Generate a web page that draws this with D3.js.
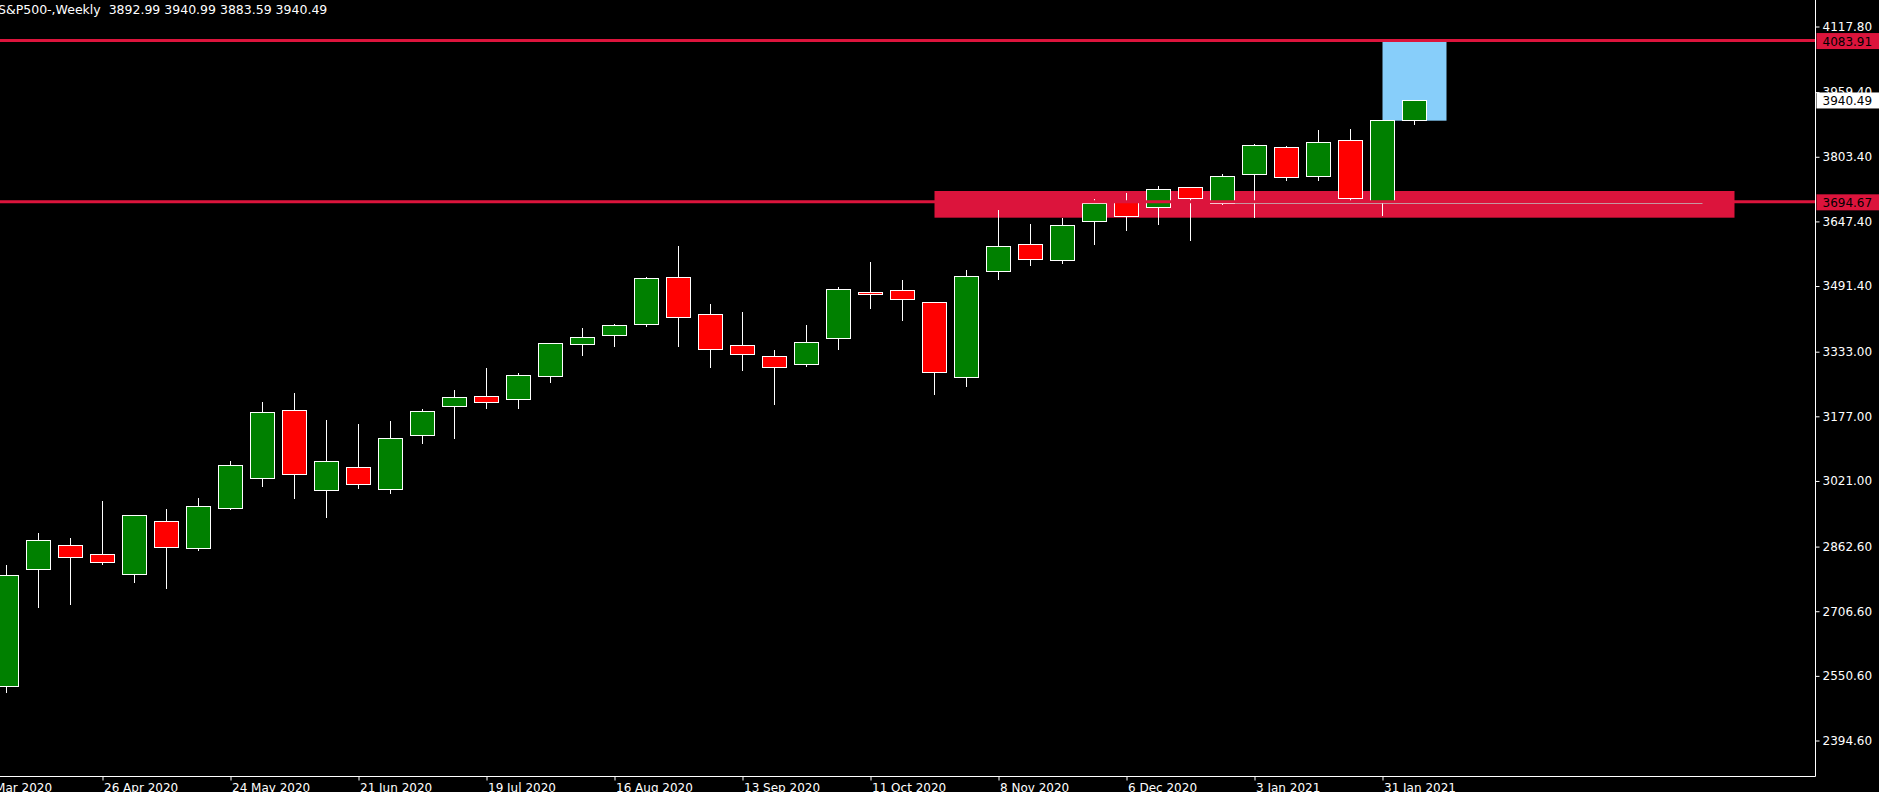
<!DOCTYPE html>
<html>
<head>
<meta charset="utf-8">
<script src="https://cdn.jsdelivr.net/npm/d3@7"></script>
<style>
  html, body { margin: 0; padding: 0; background: #000; overflow: hidden; }
  svg { display: block; }
</style>
</head>
<body>
<div id="chart"></div>
<script>
// weekly bars, S&P500-
var weeks = ["2020-04-05","2020-04-12","2020-04-19","2020-04-26","2020-05-03","2020-05-10","2020-05-17","2020-05-24",
  "2020-05-31","2020-06-07","2020-06-14","2020-06-21","2020-06-28","2020-07-05","2020-07-12","2020-07-19",
  "2020-07-26","2020-08-02","2020-08-09","2020-08-16","2020-08-23","2020-08-30","2020-09-06","2020-09-13",
  "2020-09-20","2020-09-27","2020-10-04","2020-10-11","2020-10-18","2020-10-25","2020-11-01","2020-11-08",
  "2020-11-15","2020-11-22","2020-11-29","2020-12-06","2020-12-13","2020-12-20","2020-12-27","2021-01-03",
  "2021-01-10","2021-01-17","2021-01-24","2021-01-31","2021-02-07"];
var opens  = [2525.4,2807.8,2865.7,2844.0,2795.7,2923.7,2858.5,2955.0,3027.4,3191.5,2998.5,3054.0,3000.9,3131.2,3201.2,
  3225.3,3218.1,3273.6,3350.8,3372.5,3399.1,3512.5,3423.2,3348.4,3321.9,3304.0,3365.3,3476.3,3481.1,3452.2,
  3271.2,3527.0,3592.2,3553.5,3647.7,3696.7,3681.5,3729.7,3691.1,3761.1,3826.3,3756.3,3843.2,3697.0,3892.99];
var highs  = [2818.2,2895.4,2883.3,2972.6,2938.1,2953.3,2979.9,3069.2,3211.6,3233.3,3168.1,3158.5,3165.7,3194.7,3240.5,
  3293.6,3280.8,3353.2,3390.2,3399.1,3513.2,3588.1,3448.1,3428.8,3337.1,3397.4,3489.1,3549.4,3506.0,3452.2,
  3530.1,3674.9,3641.2,3655.6,3701.5,3716.0,3732.1,3729.7,3761.8,3834.2,3829.4,3868.0,3870.4,3891.4,3940.99];
var lows   = [2512.4,2717.5,2724.8,2819.9,2777.9,2763.4,2855.1,2954.0,3009.6,2980.6,2934.8,3003.3,2992.7,3113.3,3125.4,
  3197.8,3197.8,3260.6,3325.0,3347.4,3395.7,3347.4,3296.8,3289.5,3207.5,3299.2,3340.2,3439.2,3410.2,3231.6,
  3250.9,3509.1,3542.9,3547.8,3593.6,3626.7,3641.9,3603.3,3689.4,3658.8,3748.1,3748.1,3699.8,3662.9,3883.59];
var closes = [2793.3,2877.8,2836.8,2824.7,2938.1,2860.9,2959.9,3058.8,3186.7,3037.1,3068.5,3012.9,3124.0,3189.1,3222.9,
  3210.8,3276.0,3353.2,3367.7,3396.7,3510.1,3416.0,3338.8,3326.7,3295.3,3355.6,3483.6,3471.5,3459.4,3284.7,
  3514.9,3587.3,3556.0,3638.0,3691.1,3661.2,3724.9,3703.2,3756.3,3831.1,3753.9,3838.3,3703.2,3891.4,3940.49];

var priceTicks = [4117.80, 3959.40, 3803.40, 3647.40, 3491.40, 3333.00, 3177.00, 3021.00, 2862.60, 2706.60, 2550.60, 2394.60];
var dateTicks = ["2020-03-29","2020-04-26","2020-05-24","2020-06-21","2020-07-19","2020-08-16","2020-09-13",
  "2020-10-11","2020-11-08","2020-12-06","2021-01-03","2021-01-31"];

// drawn objects
var hLevels = [4083.91, 3694.67];
var supplyZone = ["2021-01-31", "2021-02-14", 3890.5, 4083.91];
var demandZone = ["2020-10-25", "2021-04-18", 3656.4, 3720.8];
var trendSeg = ["2020-12-27", "2021-04-11", 3691.1];
var header = "S&P500-,Weekly  3892.99 3940.99 3883.59 3940.49";

var W = 1879, H = 792, axisX = 1815.5, axisY = 776.5;
var FONT = "DejaVu Sans, Verdana, sans-serif";
var parse = d3.utcParse("%Y-%m-%d");

var x = d3.scaleUtc()
    .domain([parse(weeks[0]), parse(weeks[weeks.length - 1])])
    .range([6.5, 1414.5]);
var y = d3.scaleLinear()
    .domain([2394.6, 4117.8])
    .range([740.5, 26.5]);

var svg = d3.select("#chart").append("svg")
    .attr("width", W)
    .attr("height", H);
svg.append("rect").attr("width", W).attr("height", H).attr("fill", "#000");

svg.append("defs").append("clipPath").attr("id", "plotClip")
  .append("rect").attr("x", 0).attr("y", 0).attr("width", axisX).attr("height", axisY);

var plot = svg.append("g").attr("clip-path", "url(#plotClip)");

// background objects
function renderZone(z, color){
    plot.append("rect")
        .attr("x", x(parse(z[0])))
        .attr("y", y(z[3]))
        .attr("width", x(parse(z[1])) - x(parse(z[0])))
        .attr("height", y(z[2]) - y(z[3]))
        .attr("fill", color);
}
renderZone(demandZone, "#DC143C");
renderZone(supplyZone, "#87CEFA");

plot.append("line")
    .attr("x1", x(parse(trendSeg[0])))
    .attr("x2", x(parse(trendSeg[1])))
    .attr("y1", Math.round(y(trendSeg[2])) + 0.5)
    .attr("y2", Math.round(y(trendSeg[2])) + 0.5)
    .attr("stroke", "#C0C0C0")
    .attr("stroke-width", 1);

// candles
var bars = weeks.map(function(w, i){
    return {date: parse(w), o: opens[i], h: highs[i], l: lows[i], c: closes[i]};
});
var candle = plot.append("g").selectAll("g").data(bars).enter().append("g");

candle.append("line")
    .attr("x1", function(d){ return x(d.date); })
    .attr("x2", function(d){ return x(d.date); })
    .attr("y1", function(d){ return Math.round(y(d.h)); })
    .attr("y2", function(d){ return Math.round(y(d.l)) + 1; })
    .attr("stroke", "#fff")
    .attr("stroke-width", 1);

candle.append("rect")
    .attr("x", function(d){ return x(d.date) - 12; })
    .attr("y", function(d){ return Math.round(y(Math.max(d.o, d.c))) + 0.5; })
    .attr("width", 24)
    .attr("height", function(d){
        return Math.max(1, Math.round(y(Math.min(d.o, d.c))) - Math.round(y(Math.max(d.o, d.c))));
    })
    .attr("fill", function(d){ return d.c >= d.o ? "#008000" : "#FF0000"; })
    .attr("stroke", "#fff")
    .attr("stroke-width", 1);

// horizontal levels on top
plot.selectAll(".level").data(hLevels).enter().append("line")
    .attr("class", "level")
    .attr("x1", 0)
    .attr("x2", axisX)
    .attr("y1", function(d){ return y(d); })
    .attr("y2", function(d){ return y(d); })
    .attr("stroke", "#DC143C")
    .attr("stroke-width", 3);

// header
svg.append("text")
    .attr("x", -2)
    .attr("y", 14)
    .attr("fill", "#fff")
    .attr("font-family", FONT)
    .attr("font-size", 12.5)
    .attr("xml:space", "preserve")
    .text(header);

// price axis
var yAxis = svg.append("g")
    .attr("transform", "translate(" + axisX + ",0)")
    .call(d3.axisRight(y).tickValues(priceTicks).tickSize(4).tickFormat(d3.format(".2f")));
yAxis.select(".domain").remove();
yAxis.selectAll("line").attr("stroke", "#fff");
yAxis.selectAll("text").attr("fill", "#fff").attr("font-family", FONT).attr("font-size", 12);

// time axis
var fmt = d3.utcFormat("%-d %b %Y");
var xAxis = svg.append("g")
    .attr("transform", "translate(0," + axisY + ")")
    .call(d3.axisBottom(x).tickValues(dateTicks.map(parse)).tickSize(4).tickFormat(fmt));
xAxis.select(".domain").remove();
xAxis.selectAll("line").attr("stroke", "#fff");
xAxis.selectAll("text")
    .attr("fill", "#fff")
    .attr("font-family", FONT)
    .attr("font-size", 12)
    .attr("text-anchor", "start")
    .attr("x", 1);

svg.append("line").attr("x1", axisX).attr("x2", axisX).attr("y1", 0).attr("y2", axisY)
    .attr("stroke", "#fff");
svg.append("line").attr("x1", 0).attr("x2", axisX).attr("y1", axisY).attr("y2", axisY)
    .attr("stroke", "#fff");

// price labels on the axis
function renderPriceTag(p, bg){
    var py = y(p);
    svg.append("rect")
        .attr("x", axisX + 1)
        .attr("y", py - 7.5)
        .attr("width", W - axisX)
        .attr("height", 16)
        .attr("fill", bg);
    svg.append("text")
        .attr("x", axisX + 7)
        .attr("y", py + 5)
        .attr("fill", "#000")
        .attr("font-family", FONT)
        .attr("font-size", 12)
        .text(d3.format(".2f")(p));
}
hLevels.forEach(function(p){ renderPriceTag(p, "#DC143C"); });
renderPriceTag(closes[closes.length - 1], "#fff");
</script>
</body>
</html>
